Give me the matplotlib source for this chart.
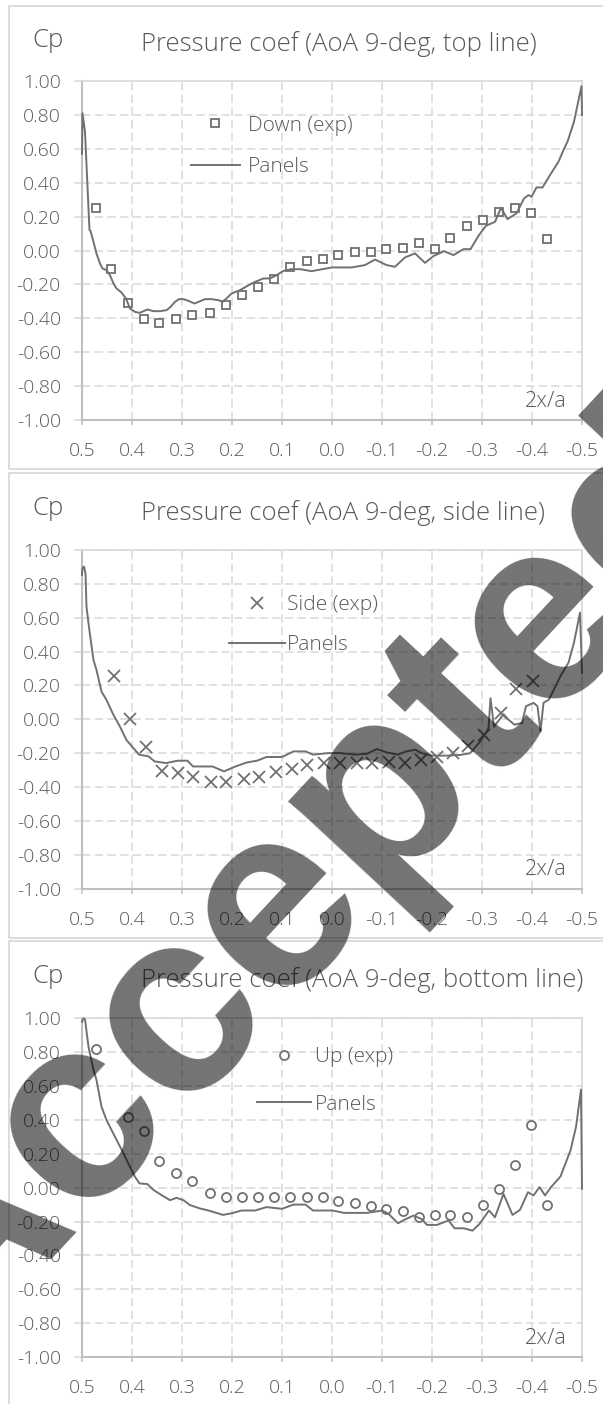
import matplotlib
matplotlib.use("Agg")
import matplotlib.pyplot as plt
from matplotlib.patches import Rectangle

# ---------------- data ----------------
x_ticks = [0.5, 0.4, 0.3, 0.2, 0.1, 0.0, -0.1, -0.2, -0.3, -0.4, -0.5]
x_tick_labels = ["0.5", "0.4", "0.3", "0.2", "0.1", "0.0", "-0.1", "-0.2", "-0.3", "-0.4", "-0.5"]
y_ticks = [1.0, 0.8, 0.6, 0.4, 0.2, 0.0, -0.2, -0.4, -0.6, -0.8, -1.0]
y_tick_labels = ["1.00", "0.80", "0.60", "0.40", "0.20", "0.00", "-0.20", "-0.40", "-0.60", "-0.80", "-1.00"]

titles = ["Pressure coef (AoA 9-deg, top line)",
          "Pressure coef (AoA 9-deg, side line)",
          "Pressure coef (AoA 9-deg, bottom line)"]
exp_labels = ["Down (exp)", "Side (exp)", "Up (exp)"]
panel_label = "Panels"

# top line: experiment (Down)
down_x = [0.473, 0.442, 0.409, 0.377, 0.346, 0.313, 0.280, 0.245, 0.212, 0.180,
          0.149, 0.116, 0.084, 0.051, 0.019, -0.012, -0.045, -0.077, -0.108, -0.141,
          -0.173, -0.205, -0.236, -0.270, -0.301, -0.334, -0.365, -0.398, -0.430]
down_cp = [0.253, -0.109, -0.312, -0.406, -0.430, -0.406, -0.381, -0.371, -0.322, -0.263,
           -0.217, -0.170, -0.097, -0.064, -0.052, -0.028, -0.007, -0.007, 0.007, 0.017,
           0.042, 0.007, 0.076, 0.147, 0.182, 0.229, 0.253, 0.219, 0.066]

# top line: panel method
top_x = [0.500, 0.499, 0.494, 0.485, 0.483, 0.477, 0.471, 0.464, 0.459, 0.451,
         0.444, 0.437, 0.431, 0.421, 0.412, 0.404, 0.394, 0.385, 0.369, 0.357,
         0.344, 0.331, 0.324, 0.314, 0.306, 0.297, 0.287, 0.275, 0.264, 0.254,
         0.241, 0.227, 0.219, 0.211, 0.201, 0.184, 0.167, 0.154, 0.137, 0.124,
         0.111, 0.097, 0.081, 0.064, 0.041, 0.000, -0.039, -0.066, -0.086, -0.109,
         -0.126, -0.146, -0.166, -0.186, -0.203, -0.224, -0.243, -0.263, -0.277, -0.294,
         -0.308, -0.326, -0.338, -0.351, -0.369, -0.384, -0.393, -0.399, -0.409, -0.421,
         -0.436, -0.453, -0.463, -0.471, -0.484, -0.499, -0.500]
top_cp = [0.57, 0.81, 0.70, 0.12, 0.116, 0.051, -0.018, -0.077, -0.106, -0.116,
          -0.146, -0.195, -0.224, -0.248, -0.283, -0.342, -0.362, -0.368, -0.348, -0.358,
          -0.358, -0.352, -0.336, -0.303, -0.287, -0.287, -0.297, -0.313, -0.299, -0.287,
          -0.287, -0.293, -0.303, -0.283, -0.254, -0.234, -0.205, -0.185, -0.165, -0.165,
          -0.146, -0.120, -0.110, -0.110, -0.122, -0.100, -0.100, -0.086, -0.053, -0.086,
          -0.096, -0.041, -0.017, -0.073, -0.033, -0.004, -0.027, 0.008, 0.008, 0.091,
          0.146, 0.169, 0.252, 0.185, 0.219, 0.307, 0.327, 0.317, 0.372, 0.372,
          0.445, 0.524, 0.593, 0.642, 0.760, 0.970, 0.800]

# side line: experiment
side_x = [0.437, 0.404, 0.373, 0.340, 0.309, 0.278, 0.243, 0.212, 0.177, 0.146,
          0.113, 0.080, 0.050, 0.016, -0.016, -0.049, -0.080, -0.113, -0.145, -0.177,
          -0.210, -0.241, -0.272, -0.303, -0.337, -0.368, -0.401]
side_cp = [0.255, 0.002, -0.164, -0.308, -0.318, -0.342, -0.368, -0.368, -0.354, -0.342,
           -0.314, -0.294, -0.269, -0.259, -0.259, -0.259, -0.259, -0.255, -0.259, -0.239,
           -0.223, -0.200, -0.160, -0.091, 0.038, 0.176, 0.225]

# side line: panel method
sidep_x = [0.500, 0.499, 0.496, 0.493, 0.491, 0.487, 0.483, 0.477, 0.471, 0.461,
           0.451, 0.437, 0.424, 0.411, 0.386, 0.367, 0.355, 0.332, 0.309, 0.289,
           0.278, 0.239, 0.216, 0.193, 0.170, 0.150, 0.131, 0.100, 0.077, 0.053,
           0.038, 0.007, -0.016, -0.047, -0.070, -0.090, -0.109, -0.132, -0.148, -0.167,
           -0.179, -0.200, -0.230, -0.256, -0.276, -0.296, -0.313, -0.317, -0.324, -0.343,
           -0.352, -0.365, -0.380, -0.388, -0.403, -0.411, -0.417, -0.423, -0.434, -0.457,
           -0.473, -0.484, -0.496, -0.500]
sidep_cp = [0.852, 0.892, 0.902, 0.862, 0.665, 0.567, 0.478, 0.350, 0.291, 0.163,
            0.114, 0.025, -0.044, -0.123, -0.209, -0.219, -0.249, -0.259, -0.245, -0.245,
            -0.279, -0.279, -0.308, -0.279, -0.255, -0.245, -0.223, -0.223, -0.190, -0.190,
            -0.209, -0.200, -0.200, -0.209, -0.204, -0.176, -0.196, -0.209, -0.190, -0.180,
            -0.200, -0.215, -0.215, -0.211, -0.201, -0.133, -0.054, 0.124, -0.044, 0.030,
            0.000, -0.032, -0.022, 0.077, 0.097, 0.077, -0.071, 0.097, 0.117, 0.255,
            0.334, 0.453, 0.630, 0.275]

# bottom line: experiment (Up)
up_x = [0.473, 0.409, 0.377, 0.346, 0.313, 0.280, 0.245, 0.212, 0.180, 0.149,
        0.116, 0.084, 0.051, 0.019, -0.012, -0.045, -0.077, -0.108, -0.141, -0.173,
        -0.205, -0.236, -0.270, -0.301, -0.334, -0.365, -0.398, -0.430]
up_cp = [0.818, 0.418, 0.335, 0.157, 0.086, 0.038, -0.031, -0.056, -0.056, -0.056,
         -0.056, -0.056, -0.056, -0.056, -0.080, -0.092, -0.106, -0.127, -0.139, -0.175,
         -0.161, -0.161, -0.175, -0.102, -0.009, 0.135, 0.368, -0.102]

# bottom line: panel method
bot_x = [0.500, 0.497, 0.494, 0.487, 0.477, 0.471, 0.461, 0.451, 0.434, 0.417,
         0.404, 0.394, 0.385, 0.369, 0.357, 0.341, 0.324, 0.311, 0.297, 0.284,
         0.264, 0.247, 0.218, 0.200, 0.181, 0.154, 0.131, 0.100, 0.077, 0.053,
         0.038, -0.001, -0.024, -0.070, -0.101, -0.113, -0.132, -0.148, -0.163, -0.179,
         -0.190, -0.210, -0.233, -0.245, -0.264, -0.281, -0.295, -0.314, -0.326, -0.343,
         -0.361, -0.376, -0.392, -0.403, -0.415, -0.426, -0.438, -0.457, -0.477, -0.488,
         -0.498, -0.500]
bot_cp = [0.980, 1.000, 0.994, 0.832, 0.695, 0.635, 0.478, 0.399, 0.300, 0.202,
          0.123, 0.064, 0.025, 0.021, -0.014, -0.044, -0.074, -0.060, -0.074, -0.103,
          -0.123, -0.135, -0.161, -0.151, -0.135, -0.135, -0.115, -0.125, -0.100, -0.100,
          -0.135, -0.135, -0.149, -0.149, -0.135, -0.155, -0.210, -0.185, -0.165, -0.185,
          -0.220, -0.220, -0.194, -0.240, -0.240, -0.254, -0.214, -0.135, -0.175, -0.037,
          -0.161, -0.131, -0.027, -0.046, 0.003, -0.046, 0.003, 0.066, 0.220, 0.358,
          0.579, -0.007]

watermark = "Accepted"

# ---------------- style ----------------
W, H = 603, 1404
TXT = "#595959"
LINE = "#717171"
GRID = "#d9d9d9"
AXIS = "#bfbfbf"
FONT = ["Open Sans", "DejaVu Sans"]
plt.rcParams["font.family"] = FONT
plt.rcParams["font.weight"] = "light"

fig = plt.figure(figsize=(W / 100, H / 100), dpi=100)
fig.patch.set_facecolor("white")


def px(x, y):
    return x / W, 1 - y / H


# axes boxes in pixels: left, top, right, bottom
boxes = [(82, 81, 582, 420), (82, 550, 582, 888.5), (82, 1018.3, 582, 1357)]
frames = [(9, 6, 612, 469), (9, 473, 612, 938), (9, 941, 612, 1412)]
title_base = [51, 520, 987]
cp_base = [47, 515, 983]
LEG_FS = 15
# handle left px, centre y px, labelspacing, handlelength, handletextpad
legend_pos = [(191, 146.5, 1.03, 2.35, 0.37),
              (229, 625, 0.98, 2.69, 0.10),
              (257, 1081, 1.30, 2.59, 0.19)]

series = [
    (down_x, down_cp, "s", 6.2, top_x, top_cp),
    (side_x, side_cp, "x", 9, sidep_x, sidep_cp),
    (up_x, up_cp, "o", 6.5, bot_x, bot_cp),
]

for i in range(3):
    fx0, fy0, fx1, fy1 = frames[i]
    fig.patches.append(Rectangle((fx0 / W, 1 - fy1 / H), (fx1 - fx0) / W, (fy1 - fy0) / H,
                                 transform=fig.transFigure, fill=False,
                                 edgecolor=GRID, lw=1.3, zorder=0))
    l, t, r, b = boxes[i]
    ax = fig.add_axes([l / W, 1 - b / H, (r - l) / W, (b - t) / H])
    ex, ey, mk, ms, lx, ly = series[i]
    if mk == "x":
        ax.plot(ex, ey, ls="none", marker=mk, ms=ms, mew=1.3, color=LINE,
                label=exp_labels[i], zorder=3, clip_on=False)
    else:
        ax.plot(ex, ey, ls="none", marker=mk, ms=ms, mew=1.3, mfc="white", mec=LINE,
                label=exp_labels[i], zorder=3, clip_on=False)
    ax.plot(lx, ly, color=LINE, lw=1.4, label=panel_label, zorder=4, clip_on=False)

    ax.set_xlim(0.5, -0.5)
    ax.set_ylim(-1, 1)
    ax.set_xticks(x_ticks)
    ax.set_xticklabels(x_tick_labels)
    ax.set_yticks(y_ticks)
    ax.set_yticklabels(y_tick_labels)
    ax.grid(True, color=GRID, lw=1.1, ls=(0, (5.5, 2.8)))
    ax.set_axisbelow(True)
    for s in ["left", "bottom"]:
        ax.spines[s].set_color(AXIS)
        ax.spines[s].set_linewidth(1.5)
    for s in ["top", "right"]:
        ax.spines[s].set_color(GRID)
        ax.spines[s].set_linewidth(1.2)
    ax.tick_params(axis="y", direction="out", length=5.8, width=1.1, color=GRID,
                   pad=9.5, labelsize=14, labelcolor=TXT)
    ax.tick_params(axis="x", direction="out", length=3.6, width=1.1, color=AXIS,
                   pad=12.5, labelsize=14, labelcolor=TXT)
    for lab in ax.get_xticklabels() + ax.get_yticklabels():
        lab.set_fontweight("light")

    ax.text(0.97, 0.039, "2x/a", transform=ax.transAxes, ha="right", va="baseline",
            fontsize=15.5, color=TXT, fontweight="light")

    lx0, lyc, lsp, hl, htp = legend_pos[i]
    ax.legend(loc="center left", bbox_to_anchor=px(lx0, lyc),
              bbox_transform=fig.transFigure, frameon=False, borderpad=0,
              borderaxespad=0, handlelength=hl, handletextpad=htp,
              labelspacing=lsp, numpoints=1, labelcolor=TXT,
              prop={"weight": "light", "size": LEG_FS})

    fig.text(141 / W, 1 - title_base[i] / H, titles[i], ha="left", va="baseline",
             fontsize=18.5, color=TXT, fontweight="light")
    fig.text(48 / W, 1 - cp_base[i] / H, "Cp", ha="center", va="baseline",
             fontsize=18.5, color=TXT, fontweight="light")

# watermark
fig.text(352 / W, 1 - 930 / H, watermark, rotation=47, rotation_mode="anchor",
         ha="center", va="baseline", fontsize=188, color="black", alpha=0.55,
         family="Liberation Sans", fontweight="bold", zorder=100)

fig.savefig("out.png", dpi=100, facecolor="white")
